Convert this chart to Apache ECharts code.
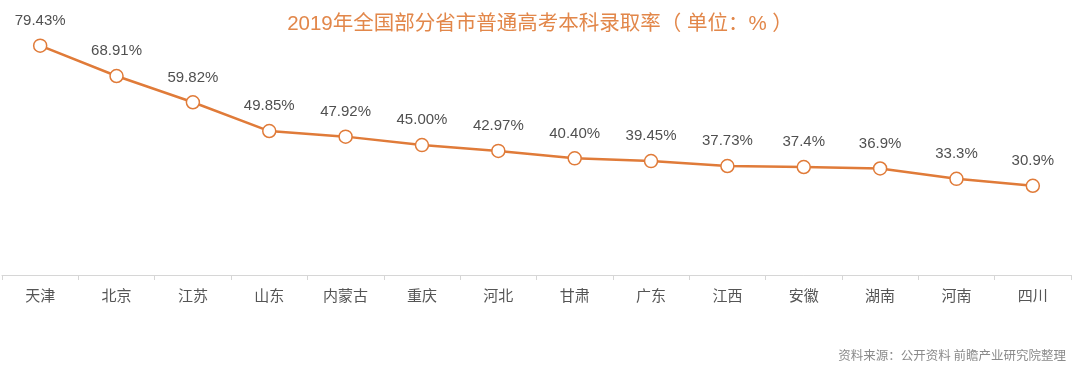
<!DOCTYPE html>
<html><head><meta charset="utf-8">
<script src="https://cdn.jsdelivr.net/npm/echarts@6/dist/echarts.min.js"></script>
<style>html,body{margin:0;padding:0;background:#fff}#c{width:1080px;height:367px}</style>
</head><body><div id="c"></div>
<script>
const categories = ['天津','北京','江苏','山东','内蒙古','重庆','河北','甘肃','广东','江西','安徽','湖南','河南','四川'];
const values = [79.43, 68.91, 59.82, 49.85, 47.92, 45.00, 42.97, 40.40, 39.45, 37.73, 37.4, 36.9, 33.3, 30.9];
const labels = ['79.43%','68.91%','59.82%','49.85%','47.92%','45.00%','42.97%','40.40%','39.45%','37.73%','37.4%','36.9%','33.3%','30.9%'];
const titleText = '2019年全国部分省市普通高考本科录取率（ 单位：% ）';
const sourceText = '资料来源：公开资料 前瞻产业研究院整理';
const chart = echarts.init(document.getElementById('c'));
const font = '"Noto Sans CJK SC", "Noto Sans", sans-serif';
const numFont = '"Liberation Sans", Arial, sans-serif';
chart.setOption({
  animation: false,
  textStyle: {fontFamily: font},
  title: [{
    text: titleText, left: 'center', top: 9,
    textStyle: {color: '#E2874A', fontSize: 20.5, fontWeight: 'normal', fontFamily: numFont + ', "Noto Sans CJK SC"'}
  }, {
    text: sourceText, right: 9, top: 344,
    textStyle: {color: '#8a8a8a', fontSize: 12.5, fontWeight: 'normal', fontFamily: font}
  }],
  grid: {left: 2, right: 9, top: 44, bottom: 92},
  xAxis: {
    type: 'category', data: categories, boundaryGap: true,
    axisLine: {lineStyle: {color: '#d6d6d6'}},
    axisTick: {show: true, lineStyle: {color: '#d6d6d6'}, length: 5},
    axisLabel: {color: '#555', fontSize: 15, margin: 13, fontFamily: font}
  },
  yAxis: {type: 'value', min: 0, max: 80, show: false, splitLine: {show: false}},
  series: [{
    type: 'line', data: values,
    symbol: 'circle', symbolSize: 13,
    lineStyle: {color: '#E07B39', width: 2.5},
    itemStyle: {color: '#fff', borderColor: '#E07B39', borderWidth: 1.5},
    label: {
      show: true, position: 'top', distance: 10, color: '#505050', fontSize: 15, fontFamily: numFont,
      formatter: p => labels[p.dataIndex]
    }
  }]
});
</script></body></html>
